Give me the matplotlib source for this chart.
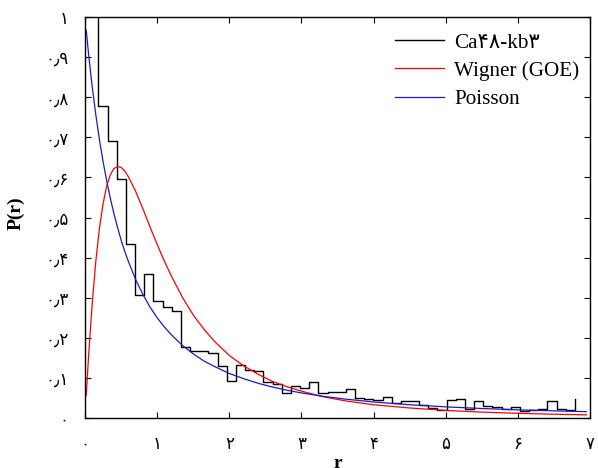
import numpy as np
import matplotlib
matplotlib.use("Agg")
import matplotlib.pyplot as plt

# histogram of the ratio r (Ca48-kb3)
bin_start = 0.06
bin_width = 0.127
hist = [1.3, 0.778, 0.69, 0.597, 0.434, 0.306, 0.359, 0.291, 0.278, 0.268,
        0.176, 0.166, 0.168, 0.162, 0.130, 0.092, 0.132, 0.120, 0.116, 0.091,
        0.085, 0.062, 0.080, 0.075, 0.091, 0.062, 0.064, 0.064, 0.073, 0.050,
        0.047, 0.046, 0.052, 0.038, 0.043, 0.043, 0.032, 0.024, 0.020, 0.045,
        0.047, 0.022, 0.043, 0.029, 0.028, 0.022, 0.027, 0.018, 0.020, 0.022,
        0.043, 0.022, 0.020, 0.047]

# reference curves
r_curve = [0.017, 0.05, 0.1, 0.15, 0.2, 0.25, 0.3, 0.35, 0.4, 0.45, 0.5, 0.55,
           0.6, 0.7, 0.8, 0.9, 1.0, 1.1, 1.2, 1.35, 1.5, 1.65, 1.8, 2.0, 2.2,
           2.4, 2.6, 2.8, 3.0, 3.3, 3.6, 4.0, 4.5, 5.0, 5.5, 6.0, 6.5, 6.95]
wigner = [0.056, 0.156, 0.286, 0.391, 0.473, 0.534, 0.578, 0.606, 0.622, 0.627,
          0.625, 0.616, 0.602, 0.566, 0.523, 0.477, 0.433, 0.391, 0.353, 0.301,
          0.257, 0.221, 0.190, 0.156, 0.130, 0.109, 0.091, 0.078, 0.067, 0.053,
          0.043, 0.033, 0.025, 0.019, 0.0147, 0.0117, 0.0094, 0.0079]
poisson = [0.967, 0.907, 0.826, 0.756, 0.694, 0.640, 0.592, 0.549, 0.510, 0.476,
           0.444, 0.416, 0.391, 0.346, 0.309, 0.277, 0.250, 0.227, 0.207, 0.181,
           0.160, 0.142, 0.128, 0.111, 0.098, 0.0865, 0.0772, 0.0693, 0.0625,
           0.0541, 0.0473, 0.040, 0.0331, 0.0278, 0.0237, 0.0204, 0.0178, 0.0158]

xticks = [0, 1, 2, 3, 4, 5, 6, 7]
xtick_labels = ['۰', '۱', '۲', '۳', '۴', '۵', '۶', '۷']
yticks = [0, 0.1, 0.2, 0.3, 0.4, 0.5, 0.6, 0.7, 0.8, 0.9, 1.0]
ytick_labels = ['۰', '۰٫۱', '۰٫۲', '۰٫۳', '۰٫۴', '۰٫۵', '۰٫۶', '۰٫۷', '۰٫۸', '۰٫۹', '۱']

serif = ['Liberation Serif', 'DejaVu Sans']

fig = plt.figure(figsize=(5.98, 4.68), dpi=100)
ax = fig.add_axes([85 / 598, 50 / 468, 505 / 598, 401 / 468])

edges = bin_start + bin_width * np.arange(len(hist))
ax.step(edges, hist, where='post', color='black', lw=1.0, label='Ca۴۸-kb۳')
ax.plot(r_curve, wigner, color='#ff0000', lw=0.9, label='Wigner (GOE)')
ax.plot(r_curve, poisson, color='#1a1acc', lw=0.9, label='Poisson')

ax.set_xlim(0, 7)
ax.set_ylim(0, 1)
ax.set_xticks(xticks)
ax.set_xticklabels(xtick_labels)
ax.set_yticks(yticks)
ax.set_yticklabels(ytick_labels)
ax.tick_params(direction='in', length=4, width=0.8, top=True, right=True,
               labelsize=12)
ax.tick_params(axis='x', pad=12)
ax.tick_params(axis='y', pad=12)
for s in ax.spines.values():
    s.set_linewidth(1.0)

ax.set_xlabel('r', fontsize=14, fontweight='bold', family=serif)
ax.xaxis.set_label_coords(0.5, -0.093)
ax.xaxis.label.set_va('top')
ax.set_ylabel('P(r)', fontsize=14, fontweight='bold', family=serif)
ax.yaxis.label.set_va('center')
ax.yaxis.set_label_coords(-0.137, 0.51)

ax.legend(loc='upper left', bbox_to_anchor=(0.614, 0.9605), frameon=False,
          borderaxespad=0, borderpad=0, handlelength=2.3, handletextpad=0.5,
          labelspacing=0.4, prop={'family': serif, 'size': 15.2})

fig.savefig('out.png', dpi=100)
